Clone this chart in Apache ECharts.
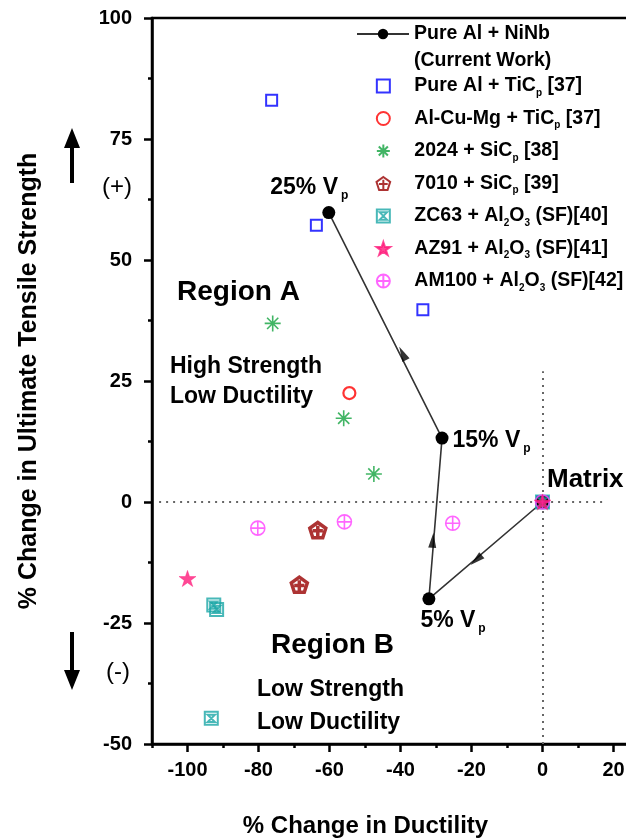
<!DOCTYPE html>
<html>
<head>
<meta charset="utf-8">
<script src="https://cdn.jsdelivr.net/npm/echarts@6/dist/echarts.min.js"></script>
<style>
html,body{margin:0;padding:0;background:#fff;}
#main{width:626px;height:839px;}
</style>
</head>
<body>
<div id="main"></div>
<script>
// series names (legend order)
var names = ['Pure Al + NiNb', 'Pure Al + TiCp [37]', 'Al-Cu-Mg + TiCp [37]', '2024 + SiCp [38]',
	'7010 + SiCp [39]', 'ZC63 + Al2O3 (SF)[40]', 'AZ91 + Al2O3 (SF)[41]', 'AM100 + Al2O3 (SF)[42]'];
var legendText = ['Pure Al + NiNb', 'Pure Al + TiC{sub|p} [37]', 'Al-Cu-Mg + TiC{sub|p} [37]', '2024 + SiC{sub|p} [38]',
	'7010 + SiC{sub|p} [39]', 'ZC63 + Al{sub|2}O{sub|3} (SF)[40]', 'AZ91 + Al{sub|2}O{sub|3} (SF)[41]', 'AM100 + Al{sub|2}O{sub|3} (SF)[42]'];

// x = % change in ductility, y = % change in UTS
// current work: matrix -> 5% -> 15% -> 25% Vp
var niNb = [[0, 0], [-32, -20], [-28.3, 13.2], [-60.2, 59.8]];
var niNbLabels = ['Matrix', '5% V{sub|p}', '15% V{sub|p}', '25% V{sub|p}'];
var tic37 = [[-76.3, 83], [-63.7, 57.2], [-33.7, 39.7], [0, 0]];
var alCuMg = [[-54.4, 22.5], [0, 0]];
var sic2024 = [[-76, 36.9], [-56, 17.3], [-47.5, 5.8]];
var sic7010 = [[-63.3, -5.8], [-68.5, -17.1]];
var zc63 = [[-92.6, -21.3], [-91.8, -22.2], [-93.3, -44.7], [0, 0]];
var az91 = [[-100, -15.8], [0, 0]];
var am100 = [[-80.2, -5.4], [-55.8, -4.1], [-25.3, -4.4], [0, 0]];
// arrow heads along the path: x, y, index of segment start
var arrowPts = [[-18.7, -12, 0], [-30.9, -7.9, 1], [-39.4, 30.7, 2]];

var xLabels = [-100, -80, -60, -40, -20, 0, 20];
var yLabels = [-50, -25, 0, 25, 50, 75, 100];

var FONT = "'Liberation Sans', Arial, sans-serif";
var SQUARE = 'path://M0,0L10,0L10,10L0,10Z';
var ASTER = 'path://M0,5L10,5M5,0L5,10M1.5,1.5L8.5,8.5M8.5,1.5L1.5,8.5';
var PENTA = 'path://M5,0L10,3.6L8.1,9.5L1.9,9.5L0,3.6Z M5,2L5,9 M1.8,5.2L8.2,5.2';
var HOUR = 'path://M0,0L10,0L10,10L0,10Z M2.2,2.2L7.8,2.2L2.2,7.8L7.8,7.8Z';
var STAR = 'path://M5,0L6.2,3.6L10,3.6L6.9,5.9L8.1,9.5L5,7.3L1.9,9.5L3.1,5.9L0,3.6L3.8,3.6Z';
var CROSSC = 'path://M0,5A5,5,0,1,1,10,5A5,5,0,1,1,0,5Z M5,0L5,10 M0,5L10,5';

var subRich = {
	sub: {fontSize: 10, fontWeight: 'bold', fontFamily: FONT, verticalAlign: 'bottom', lineHeight: 6}
};

function pointLabel(i) {
	var pos = [[11, -30], [-2, 14], [17, -5], [-52, -32]][i];
	return {
		show: true, position: pos, formatter: niNbLabels[i],
		fontSize: i == 0 ? 26 : 23, fontWeight: 'bold', fontFamily: FONT, color: '#000', lineHeight: 28,
		rich: {sub: {fontSize: 12, fontWeight: 'bold', fontFamily: FONT, verticalAlign: 'bottom', lineHeight: 4, padding: [0, 0, 0, 3]}}
	};
}

var myChart = echarts.init(document.getElementById('main'));

function scatter(idx, data, symbol, size, style, z) {
	return {
		name: names[idx], type: 'scatter', data: data, symbol: symbol, symbolSize: size,
		symbolKeepAspect: true, itemStyle: style, z: z, silent: true
	};
}

var axisFont = {fontSize: 20, fontWeight: 'bold', fontFamily: FONT, color: '#000'};

option = {
	backgroundColor: '#fff',
	animation: false,
	grid: {left: 152, top: 18, width: 497, height: 726, outerBoundsMode: 'none', containLabel: false,
		show: true, borderColor: '#000', borderWidth: 2.5},
	legend: [{
		data: [names[0]], left: 351, top: 17, itemWidth: 52, itemHeight: 13,
		textStyle: {fontSize: 19.5, fontWeight: 'bold', fontFamily: FONT, color: '#000', lineHeight: 24}
	}, {
		data: names.slice(1), orient: 'vertical', left: 369, top: 69, itemWidth: 52, itemHeight: 13, itemGap: 8.5,
		formatter: function (n) { return legendText[names.indexOf(n)]; },
		textStyle: {fontSize: 19.5, fontWeight: 'bold', fontFamily: FONT, color: '#000', lineHeight: 24, rich: subRich}
	}],
	xAxis: [{
		type: 'value', min: -110, max: 30, interval: 10,
		name: '% Change in Ductility', nameLocation: 'middle', nameGap: 70,
		nameTextStyle: {fontSize: 24, fontWeight: 'bold', fontFamily: FONT, color: '#000', padding: [0, 70, 0, 0]},
		axisLine: {onZero: false, lineStyle: {color: '#000', width: 2.5}},
		axisTick: {length: 4, lineStyle: {width: 2.5}},
		axisLabel: Object.assign({margin: 16, formatter: function (v) { return xLabels.indexOf(v) >= 0 ? String(v) : ''; }}, axisFont),
		splitLine: {show: false}
	}, {
		// longer ticks at the labelled values
		type: 'value', min: -110, max: 30, interval: 10, position: 'bottom',
		axisLine: {show: false, onZero: false}, axisLabel: {show: false}, splitLine: {show: false},
		axisTick: {length: 8, customValues: xLabels, lineStyle: {color: '#000', width: 2.5}}
	}],
	yAxis: [{
		type: 'value', min: -50, max: 100, interval: 12.5,
		name: '% Change in Ultimate Tensile Strength', nameLocation: 'middle', nameGap: 110,
		nameTextStyle: {fontSize: 25, fontWeight: 'bold', fontFamily: FONT, color: '#000'},
		axisLine: {onZero: false, lineStyle: {color: '#000', width: 2.5}},
		axisTick: {length: 4, lineStyle: {width: 2.5}},
		axisLabel: Object.assign({margin: 20, formatter: function (v) { return yLabels.indexOf(v) >= 0 ? String(v) : ''; }}, axisFont),
		splitLine: {show: false}
	}, {
		type: 'value', min: -50, max: 100, interval: 12.5, position: 'left',
		axisLine: {show: false, onZero: false}, axisLabel: {show: false}, splitLine: {show: false},
		axisTick: {length: 8, customValues: yLabels, lineStyle: {color: '#000', width: 2.5}}
	}],
	graphic: [
		{type: 'text', left: 414, top: 51, style: {text: '(Current Work)', font: 'bold 19.5px ' + FONT, fill: '#000'}},
		{type: 'text', left: 177, top: 278, style: {text: 'Region A', font: 'bold 28px ' + FONT, fill: '#000'}},
		{type: 'text', left: 170, top: 352, style: {text: 'High Strength\nLow Ductility', font: 'bold 23px ' + FONT, fill: '#000', lineHeight: 30}},
		{type: 'text', left: 271, top: 631, style: {text: 'Region B', font: 'bold 28px ' + FONT, fill: '#000'}},
		{type: 'text', left: 257, top: 673, style: {text: 'Low Strength\nLow Ductility', font: 'bold 23px ' + FONT, fill: '#000', lineHeight: 33}},
		{type: 'text', left: 102, top: 175, style: {text: '(+)', font: '24px ' + FONT, fill: '#000'}},
		{type: 'text', left: 106, top: 660, style: {text: '(-)', font: '24px ' + FONT, fill: '#000'}},
		{type: 'polygon', shape: {points: [[70, 183], [74, 183], [74, 148], [80, 148], [72, 128], [64, 148], [70, 148]]}, style: {fill: '#000'}},
		{type: 'polygon', shape: {points: [[70, 632], [74, 632], [74, 670], [80, 670], [72, 690], [64, 670], [70, 670]]}, style: {fill: '#000'}}
	],
	series: [
		scatter(1, tic37, SQUARE, 11, {color: 'none', borderColor: '#0000ff', borderWidth: 2}, 3),
		scatter(2, alCuMg, 'circle', 12, {color: 'none', borderColor: '#ff0000', borderWidth: 2.2}, 3),
		scatter(3, sic2024, ASTER, 16, {color: 'none', borderColor: '#13a33e', borderWidth: 1.6}, 3),
		scatter(4, sic7010, PENTA, 16, {color: 'none', borderColor: '#990000', borderWidth: 3.5}, 3),
		scatter(5, zc63, HOUR, 13, {color: 'none', borderColor: '#1aa6a6', borderWidth: 2}, 6),
		scatter(6, az91, STAR, 17, {color: '#ff1a7a', borderColor: '#ff1a7a', borderWidth: 0.5}, 8),
		scatter(7, am100, CROSSC, 14, {color: 'none', borderColor: '#ff40ff', borderWidth: 1.6}, 7),
		{
			name: names[0], type: 'line', z: 5, silent: true,
			data: niNb.map(function (p, i) { return {value: p, label: pointLabel(i)}; }),
			symbol: 'circle', symbolSize: 13,
			itemStyle: {color: '#000'},
			lineStyle: {color: '#333', width: 1.6},
			markLine: {
				silent: true, symbol: ['none', 'none'], label: {show: false},
				lineStyle: {type: [2, 5], color: '#666', width: 2},
				data: [
					[{coord: [-108, 0]}, {coord: [18, 0]}],
					[{coord: [0, -50]}, {coord: [0, 27]}]
				]
			}
		},
		{
			name: 'arrows', type: 'scatter', z: 6, silent: true,
			data: arrowPts.map(function (a) { return [a[0], a[1]]; }),
			symbol: 'triangle', symbolSize: [8, 15], itemStyle: {color: '#000'}
		}
	]
};

myChart.setOption(option);

// rotate arrow heads along their segments in screen space
var arrowData = arrowPts.map(function (a) {
	var p0 = myChart.convertToPixel({gridIndex: 0}, niNb[a[2]]);
	var p1 = myChart.convertToPixel({gridIndex: 0}, niNb[a[2] + 1]);
	var deg = Math.atan2(-(p1[0] - p0[0]), -(p1[1] - p0[1])) * 180 / Math.PI;
	return {value: [a[0], a[1]], symbolRotate: deg};
});
myChart.setOption({series: [{}, {}, {}, {}, {}, {}, {}, {}, {data: arrowData}]});
</script>
</body>
</html>
